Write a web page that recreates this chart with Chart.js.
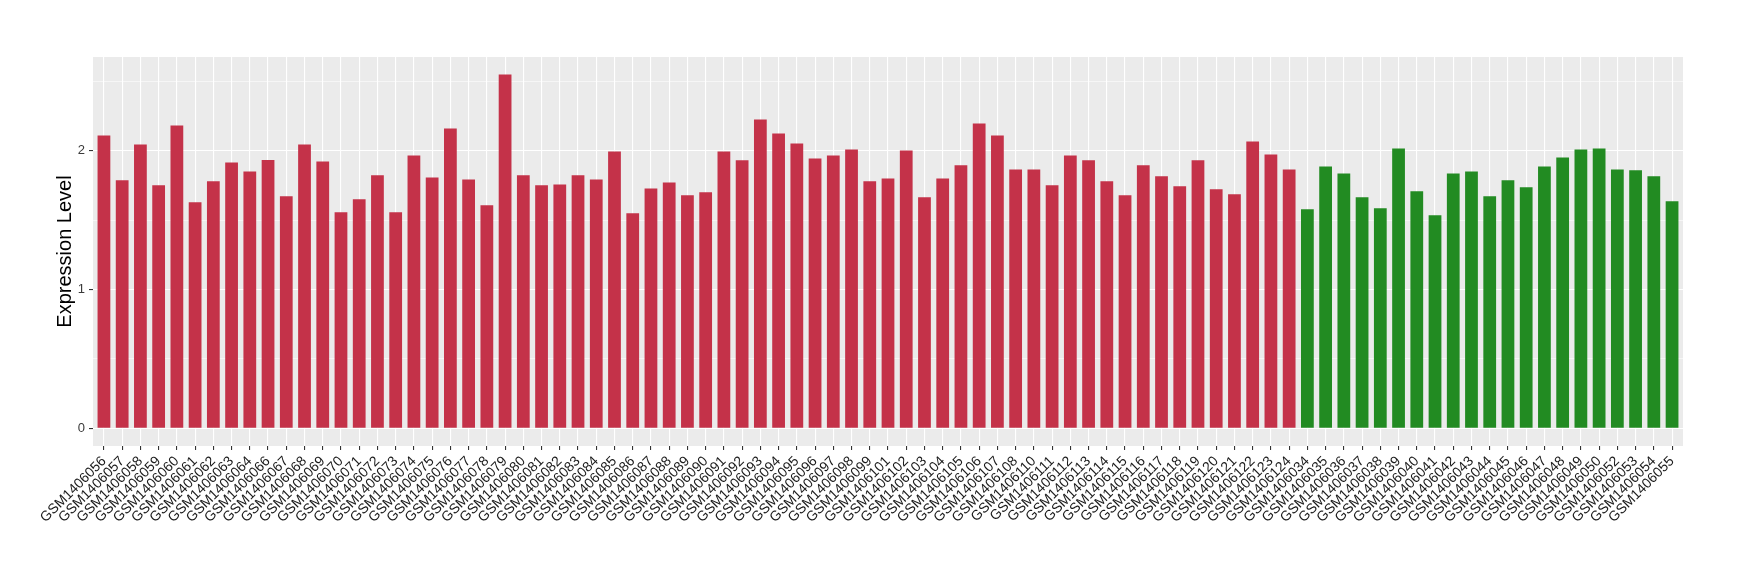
<!DOCTYPE html>
<html>
<head>
<meta charset="utf-8">
<script src="https://cdn.jsdelivr.net/npm/chart.js@4/dist/chart.umd.min.js"></script>
<style>
  html, body { margin: 0; padding: 0; background: #fff; }
</style>
</head>
<body>
<canvas id="exprChart" width="1740" height="580"></canvas>
<script>
// samples in the first group (red)
const redSamples = [
  'GSM1406056','GSM1406057','GSM1406058','GSM1406059','GSM1406060','GSM1406061','GSM1406062','GSM1406063',
  'GSM1406064','GSM1406066','GSM1406067','GSM1406068','GSM1406069','GSM1406070','GSM1406071','GSM1406072',
  'GSM1406073','GSM1406074','GSM1406075','GSM1406076','GSM1406077','GSM1406078','GSM1406079','GSM1406080',
  'GSM1406081','GSM1406082','GSM1406083','GSM1406084','GSM1406085','GSM1406086','GSM1406087','GSM1406088',
  'GSM1406089','GSM1406090','GSM1406091','GSM1406092','GSM1406093','GSM1406094','GSM1406095','GSM1406096',
  'GSM1406097','GSM1406098','GSM1406099','GSM1406101','GSM1406102','GSM1406103','GSM1406104','GSM1406105',
  'GSM1406106','GSM1406107','GSM1406108','GSM1406110','GSM1406111','GSM1406112','GSM1406113','GSM1406114',
  'GSM1406115','GSM1406116','GSM1406117','GSM1406118','GSM1406119','GSM1406120','GSM1406121','GSM1406122',
  'GSM1406123','GSM1406124'
];
const redValues = [
  2.11, 1.787, 2.045, 1.751, 2.182, 1.629, 1.78, 1.916,
  1.851, 1.933, 1.672, 2.045, 1.923, 1.557, 1.65, 1.823,
  1.557, 1.966, 1.808, 2.16, 1.794, 1.607, 2.549, 1.823,
  1.751, 1.758, 1.823, 1.794, 1.995, 1.55, 1.729, 1.772,
  1.679, 1.701, 1.995, 1.931, 2.225, 2.125, 2.053, 1.945,
  1.966, 2.01, 1.78, 1.801, 2.002, 1.665, 1.801, 1.895,
  2.196, 2.11, 1.866, 1.866, 1.751, 1.966, 1.931, 1.78,
  1.679, 1.895, 1.816, 1.744, 1.931, 1.722, 1.686, 2.067,
  1.974, 1.866
];

// samples in the second group (green)
const greenSamples = [
  'GSM1406034','GSM1406035','GSM1406036','GSM1406037','GSM1406038','GSM1406039','GSM1406040','GSM1406041',
  'GSM1406042','GSM1406043','GSM1406044','GSM1406045','GSM1406046','GSM1406047','GSM1406048','GSM1406049',
  'GSM1406050','GSM1406052','GSM1406053','GSM1406054','GSM1406055'
];
const greenValues = [
  1.578, 1.887, 1.837, 1.665, 1.586, 2.017, 1.708, 1.535,
  1.837, 1.851, 1.672, 1.787, 1.737, 1.887, 1.952, 2.01,
  2.017, 1.866, 1.859, 1.816, 1.636
];

const yTicks = [0, 1, 2];
const yMin = -0.1275;
const yMax = 2.676;

Chart.defaults.font.family = '"Liberation Sans", Arial, Helvetica, sans-serif';

const labels = redSamples.concat(greenSamples);
const values = redValues.concat(greenValues);
const colors = redSamples.map(() => '#C43249').concat(greenSamples.map(() => '#228B22'));

// grey ggplot-style panel behind the grid
const panelBg = {
  id: 'panelBg',
  beforeDraw(chart) {
    const { ctx, chartArea: a } = chart;
    ctx.save();
    ctx.fillStyle = '#EBEBEB';
    ctx.fillRect(a.left, a.top, a.right - a.left, a.bottom - a.top);
    ctx.restore();
  }
};

const isMajor = v => yTicks.includes(v);

new Chart(document.getElementById('exprChart').getContext('2d'), {
  type: 'bar',
  data: {
    labels: labels,
    datasets: [{
      data: values,
      backgroundColor: colors,
      barPercentage: 0.7,
      categoryPercentage: 1
    }]
  },
  options: {
    responsive: false,
    animation: false,
    layout: { padding: { top: 57, right: 57, bottom: 0, left: 0 } },
    plugins: {
      legend: { display: false },
      tooltip: { enabled: false }
    },
    scales: {
      x: {
        offset: true,
        border: { display: false },
        grid: { offset: false, color: '#FFFFFF', lineWidth: 1.1, tickColor: '#333333', tickLength: 4 },
        ticks: {
          autoSkip: false,
          minRotation: 45,
          maxRotation: 45,
          color: '#1A1A1A',
          font: { size: 14 },
          padding: 3
        },
        // ggplot pads a discrete axis by 0.6 of a category on each side
        afterBuildTicks(scale) {
          scale._startValue = -0.6;
          scale._valueRange = scale.getLabels().length - 1 + 1.2;
        },
        afterFit(scale) { scale.height = 134; }
      },
      y: {
        min: yMin,
        max: yMax,
        border: { display: false },
        grid: {
          color: '#FFFFFF',
          lineWidth: c => isMajor(c.tick.value) ? 1.1 : 0.55,
          tickColor: c => isMajor(c.tick.value) ? '#333333' : 'rgba(0,0,0,0)',
          tickLength: 4
        },
        ticks: {
          stepSize: 0.5,
          includeBounds: false,
          color: '#3A3A3A',
          font: { size: 13 },
          padding: 4,
          callback: v => isMajor(v) ? String(v) : ''
        },
        title: {
          display: true,
          text: 'Expression Level',
          color: '#000000',
          font: { size: 20 },
          padding: { top: 53, bottom: 0 }
        },
        afterFit(scale) { scale.width = 93; }
      }
    }
  },
  plugins: [panelBg]
});
</script>
</body>
</html>
